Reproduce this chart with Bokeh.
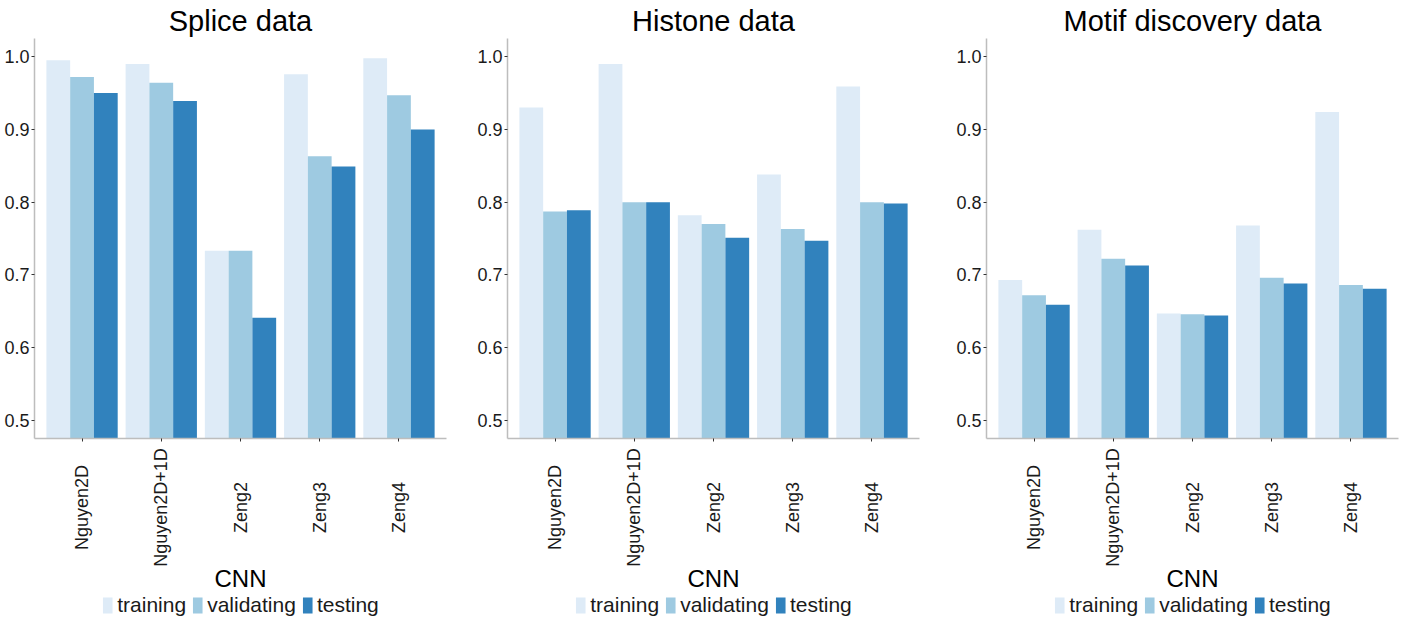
from math import pi
from bokeh.plotting import figure
from bokeh.models import Range1d, FixedTicker, Legend, LegendItem, PrintfTickFormatter
from bokeh.core.properties import value
from bokeh.layouts import row, column
from bokeh.embed import file_html
from bokeh.resources import INLINE

categories = ["Nguyen2D", "Nguyen2D+1D", "Zeng2", "Zeng3", "Zeng4"]
series = ["training", "validating", "testing"]
colors = ["#deebf7", "#9ecae1", "#3182bd"]
titles = ["Splice data", "Histone data", "Motif discovery data"]
x_title = "CNN"
y_ticks = [0.5, 0.6, 0.7, 0.8, 0.9, 1.0]

splice_training = [0.995, 0.990, 0.733, 0.976, 0.998]
splice_validating = [0.972, 0.964, 0.733, 0.863, 0.947]
splice_testing = [0.950, 0.939, 0.641, 0.849, 0.900]

histone_training = [0.930, 0.990, 0.782, 0.838, 0.959]
histone_validating = [0.787, 0.800, 0.770, 0.763, 0.800]
histone_testing = [0.789, 0.800, 0.751, 0.747, 0.798]

motif_training = [0.693, 0.762, 0.647, 0.768, 0.924]
motif_validating = [0.672, 0.722, 0.646, 0.696, 0.686]
motif_testing = [0.659, 0.713, 0.644, 0.688, 0.681]

FONT = "Liberation Sans"
TEXT = "#1a1a1a"
Y0, Y1 = 0.475, 1.025
FRAME_W, FRAME_H = 412, 400
LOWER_H = 172          # height (px) of the strip under each chart
TICKLABEL_DY = 62      # px below strip top: centre of category labels
XTITLE_DY = 133        # px below strip top: centre of axis title


def make_panel(title, values, left, right):
    pos = [i + 1 for i in range(len(categories))]
    xr = Range1d(0.4, len(categories) + 0.6)
    p = figure(frame_width=FRAME_W, frame_height=FRAME_H,
               x_range=xr, y_range=Range1d(Y0, Y1),
               output_backend="svg", toolbar_location=None,
               min_border_left=left, min_border_right=right,
               min_border_top=0, min_border_bottom=0)
    p.title.text = title
    p.title.text_font = FONT
    p.title.text_font_size = "29px"
    p.title.text_font_style = "normal"
    p.title.text_color = "#000000"
    p.title.align = "center"
    p.title.standoff = 4
    p.outline_line_color = None
    p.xgrid.visible = False
    p.ygrid.visible = False

    bw = 0.9 / len(series)
    for j, s in enumerate(series):
        p.vbar(x=[v + (j - 1) * bw for v in pos], top=values[j], bottom=Y0, width=bw,
               fill_color=colors[j], line_color=None)

    ya = p.yaxis[0]
    ya.ticker = FixedTicker(ticks=y_ticks)
    ya.formatter = PrintfTickFormatter(format="%.1f")
    ya.major_label_text_font = FONT
    ya.major_label_text_font_size = "18px"
    ya.major_label_text_color = TEXT
    ya.major_label_standoff = 2
    ya.major_tick_out = 3
    ya.major_tick_in = 0
    ya.major_tick_line_color = "#333333"
    ya.minor_tick_line_color = None
    ya.axis_line_color = "#bdbdbd"
    ya.axis_line_width = 1.5

    xa = p.xaxis[0]
    xa.ticker = FixedTicker(ticks=pos)
    xa.major_label_overrides = {v: " " for v in pos}
    xa.major_label_text_font_size = "1px"
    xa.major_label_standoff = 0
    xa.major_tick_out = 3
    xa.major_tick_in = 0
    xa.major_tick_line_color = "#333333"
    xa.minor_tick_line_color = None
    xa.axis_line_color = "#bdbdbd"
    xa.axis_line_width = 1.5

    # lower strip: category labels, axis title and legend
    q = figure(frame_width=FRAME_W, frame_height=LOWER_H,
               x_range=xr, y_range=Range1d(-LOWER_H, 0),
               x_axis_type=None, y_axis_type=None,
               output_backend="svg", toolbar_location=None,
               min_border_left=left, min_border_right=right,
               min_border_top=0, min_border_bottom=0)
    q.outline_line_color = None
    q.text(x=pos, y=[-TICKLABEL_DY] * len(pos), text=categories, angle=pi / 2,
           text_align="center", text_baseline="middle", text_font=value(FONT),
           text_font_size="18px", text_color=TEXT)
    q.text(x=[(len(categories) + 1) / 2], y=[-XTITLE_DY], text=[x_title],
           text_align="center", text_baseline="middle", text_font=value(FONT),
           text_font_size="24px", text_color="#000000")
    items = []
    for j, s in enumerate(series):
        # zero-height swatch renderer placed outside the visible range (legend only)
        r = q.vbar(x=[xr.start - 1], top=[0], bottom=[0], width=bw,
                   fill_color=colors[j], line_color=None)
        items.append(LegendItem(label=s, renderers=[r]))
    legend = Legend(items=items, orientation="horizontal", location="bottom_center",
                    glyph_width=12, glyph_height=20, label_text_font=FONT,
                    label_text_font_size="21px", label_text_color=TEXT,
                    label_height=20, label_standoff=4, spacing=5, padding=0,
                    margin=0, border_line_color=None, background_fill_alpha=0)
    q.add_layout(legend, "center")
    return column(p, q, spacing=0)


c1 = make_panel(titles[0], [splice_training, splice_validating, splice_testing], 34, 27)
c2 = make_panel(titles[1], [histone_training, histone_validating, histone_testing], 34, 33)
c3 = make_panel(titles[2], [motif_training, motif_validating, motif_testing], 34, 3)

layout = row(c1, c2, c3, spacing=0)
open("out.html", "w").write(file_html(layout, INLINE))
